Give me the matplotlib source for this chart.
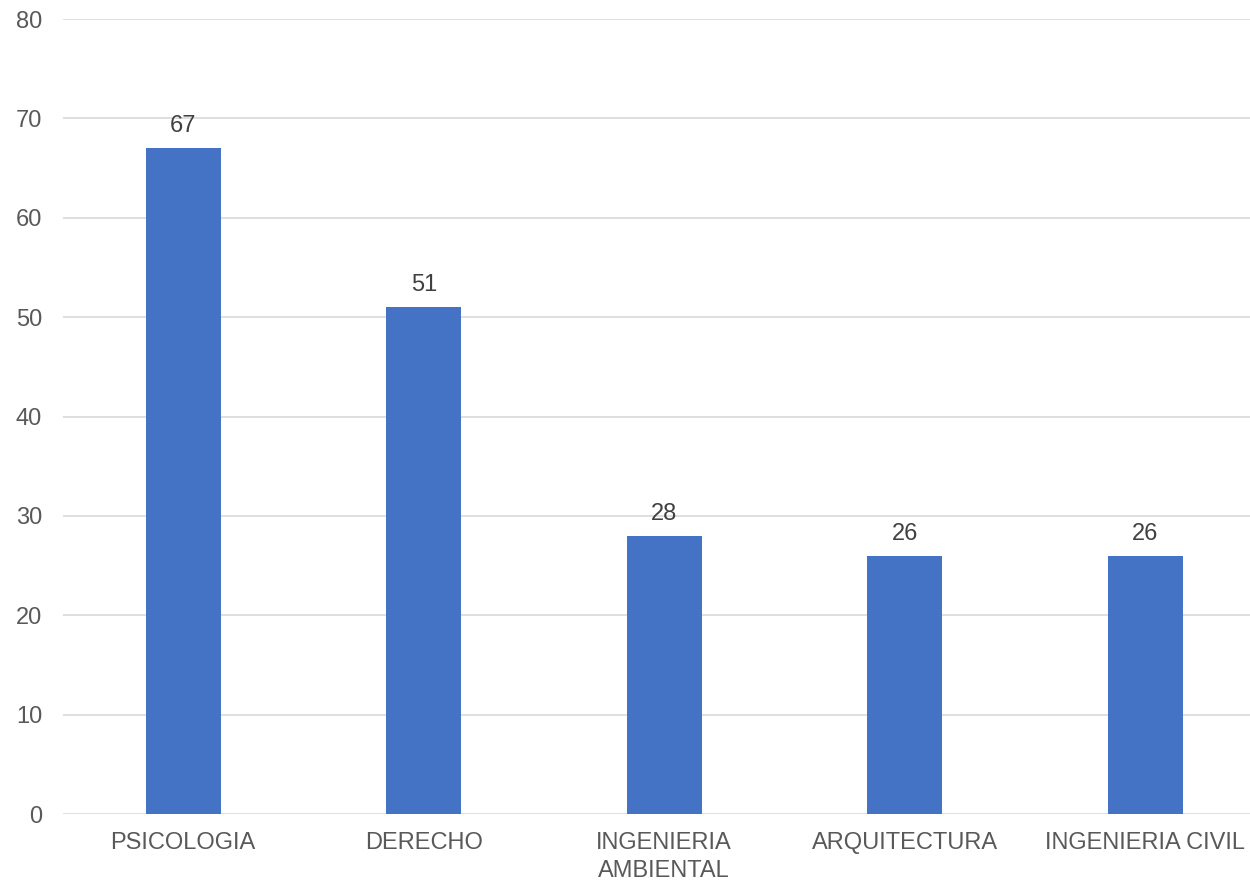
import matplotlib.pyplot as plt

carreras = ['PSICOLOGIA', 'DERECHO', 'INGENIERIA\nAMBIENTAL', 'ARQUITECTURA', 'INGENIERIA CIVIL']
valores = [67, 51, 28, 26, 26]
yticks = [0, 10, 20, 30, 40, 50, 60, 70, 80]

plt.rcParams['font.family'] = ['Liberation Sans', 'DejaVu Sans']

fig = plt.figure(figsize=(12.5, 8.81), dpi=100)
ax = fig.add_axes([0.0504, 0.076, 0.962, 0.9024])

x = range(len(carreras))
bars = ax.bar(x, valores, width=0.31, color='#4472C4', zorder=3)
for b, v in zip(bars, valores):
    ax.annotate(str(v), (b.get_x() + b.get_width() / 2, v), xytext=(0, 8),
                textcoords='offset points', ha='center', va='bottom',
                fontsize=17, color='#404040')

ax.set_xlim(-0.5, len(carreras) - 0.5)
ax.set_ylim(0, 80)
ax.set_yticks(yticks)
ax.set_xticks(list(x))
ax.set_xticklabels(carreras, fontsize=17, color='#595959', linespacing=1.35)
ax.tick_params(axis='y', labelsize=17, labelcolor='#595959', length=0, pad=15)
ax.tick_params(axis='x', length=0, pad=13)
ax.grid(axis='y', color='#D9D9D9', linewidth=1.2, zorder=0)
for s in ax.spines.values():
    s.set_visible(False)

fig.savefig('out.png', dpi=100)
